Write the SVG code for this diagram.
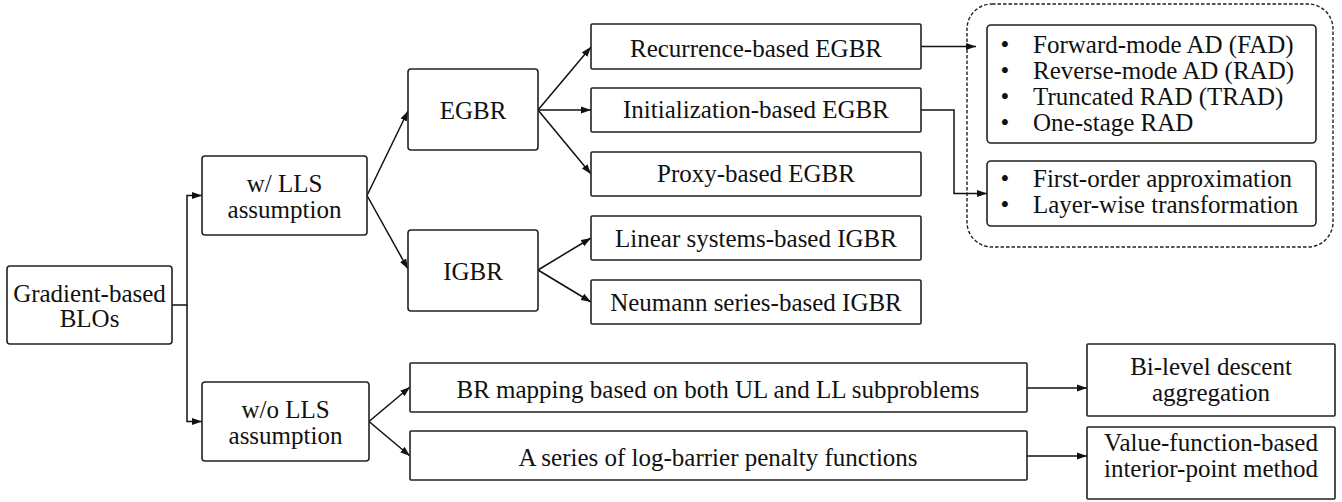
<svg xmlns="http://www.w3.org/2000/svg" width="1342" height="502" viewBox="0 0 1342 502">
<style>
.box{fill:#fff;stroke:#222;stroke-width:1.6}
.t{font-family:"Liberation Serif","Times New Roman",serif;font-size:25px;fill:#111;text-anchor:middle}
.tl{font-family:"Liberation Serif","Times New Roman",serif;font-size:25px;fill:#111}
.b{font-family:"Liberation Serif","Times New Roman",serif;font-size:25px;fill:#111;text-anchor:middle}
.c{fill:none;stroke:#111;stroke-width:1.5}
.dash{fill:none;stroke:#222;stroke-width:1.4;stroke-dasharray:3.5 2}
</style>
<defs>
<marker id="ah" markerUnits="userSpaceOnUse" markerWidth="10" markerHeight="8" refX="10" refY="4" orient="auto">
<path d="M0,0.5 L10,4 L0,7.5 z" fill="#111"/>
</marker>
</defs>
<rect class="dash" x="967" y="4" width="366" height="243" rx="25"/>
<g id="connectors">
<path class="c" d="M172,305 H187 V195.5 H202" marker-end="url(#ah)"/>
<path class="c" d="M187,305 V421.5 H202" marker-end="url(#ah)"/>
<path class="c" d="M367,195.5 L408,111" marker-end="url(#ah)"/>
<path class="c" d="M367,195.5 L408,269" marker-end="url(#ah)"/>
<path class="c" d="M538,110 L591,47" marker-end="url(#ah)"/>
<path class="c" d="M538,110 L591,110" marker-end="url(#ah)"/>
<path class="c" d="M538,110 L591,174" marker-end="url(#ah)"/>
<path class="c" d="M538,270 L591,238" marker-end="url(#ah)"/>
<path class="c" d="M538,270 L591,302" marker-end="url(#ah)"/>
<path class="c" d="M369,421.5 L410,387" marker-end="url(#ah)"/>
<path class="c" d="M369,421.5 L410,456" marker-end="url(#ah)"/>
<path class="c" d="M921,46.5 H976" marker-end="url(#ah)"/>
<path class="c" d="M921,110 H954 V193.5 H987" marker-end="url(#ah)"/>
<path class="c" d="M1027,388 H1087" marker-end="url(#ah)"/>
<path class="c" d="M1027,456 H1087" marker-end="url(#ah)"/>
</g>
<g id="root">
<rect class="box" x="7" y="266" width="165" height="78" rx="3"/>
<text class="t" x="89.5" y="301.5">Gradient-based</text>
<text class="t" x="89.5" y="327">BLOs</text>
</g>
<g id="wlls">
<rect class="box" x="202" y="156" width="165" height="79" rx="3"/>
<text class="t" x="284.5" y="191.5">w/ LLS</text>
<text class="t" x="284.5" y="217.5">assumption</text>
</g>
<g id="wolls">
<rect class="box" x="202" y="382" width="167" height="79" rx="3"/>
<text class="t" x="285.5" y="417.5">w/o LLS</text>
<text class="t" x="285.5" y="443.5">assumption</text>
</g>
<g id="egbr">
<rect class="box" x="408" y="69" width="130" height="81" rx="3"/>
<text class="t" x="473" y="119">EGBR</text>
</g>
<g id="igbr">
<rect class="box" x="408" y="230" width="130" height="81" rx="3"/>
<text class="t" x="473" y="280">IGBR</text>
</g>
<g id="recurrence">
<rect class="box" x="591" y="24" width="330" height="45" rx="1.5"/>
<text class="t" x="756" y="56.5">Recurrence-based EGBR</text>
</g>
<g id="initialization">
<rect class="box" x="591" y="88" width="330" height="44" rx="1.5"/>
<text class="t" x="756" y="117.5">Initialization-based EGBR</text>
</g>
<g id="proxy">
<rect class="box" x="591" y="152" width="330" height="44" rx="1.5"/>
<text class="t" x="756" y="182">Proxy-based EGBR</text>
</g>
<g id="linear">
<rect class="box" x="591" y="216" width="330" height="44" rx="1.5"/>
<text class="t" x="756" y="246.5">Linear systems-based IGBR</text>
</g>
<g id="neumann">
<rect class="box" x="591" y="280" width="330" height="44" rx="1.5"/>
<text class="t" x="756" y="310.5">Neumann series-based IGBR</text>
</g>
<g id="ad-methods">
<rect class="box" x="987" y="25" width="329" height="118" rx="4"/>
<text class="b" x="1005" y="52.5">•</text><text class="tl" x="1033" y="52.5">Forward-mode AD (FAD)</text>
<text class="b" x="1005" y="78.5">•</text><text class="tl" x="1033" y="78.5">Reverse-mode AD (RAD)</text>
<text class="b" x="1005" y="104.5">•</text><text class="tl" x="1033" y="104.5">Truncated RAD (TRAD)</text>
<text class="b" x="1005" y="130.5">•</text><text class="tl" x="1033" y="130.5">One-stage RAD</text>
</g>
<g id="init-methods">
<rect class="box" x="987" y="161" width="329" height="65" rx="4"/>
<text class="b" x="1005" y="187">•</text><text class="tl" x="1033" y="187">First-order approximation</text>
<text class="b" x="1005" y="213">•</text><text class="tl" x="1033" y="213">Layer-wise transformation</text>
</g>
<g id="br-mapping">
<rect class="box" x="410" y="363" width="617" height="49" rx="1"/>
<text class="t" x="718" y="397.5">BR mapping based on both UL and LL subproblems</text>
</g>
<g id="log-barrier">
<rect class="box" x="410" y="431" width="617" height="49" rx="1"/>
<text class="t" x="718" y="465.5">A series of log-barrier penalty functions</text>
</g>
<g id="bda">
<rect class="box" x="1087" y="344" width="248" height="72" rx="1"/>
<text class="t" x="1211" y="374.5">Bi-level descent</text>
<text class="t" x="1211" y="400.5">aggregation</text>
</g>
<g id="vfip">
<rect class="box" x="1087" y="427" width="248" height="72" rx="1"/>
<text class="t" x="1211" y="451">Value-function-based</text>
<text class="t" x="1211" y="477">interior-point method</text>
</g>
</svg>
